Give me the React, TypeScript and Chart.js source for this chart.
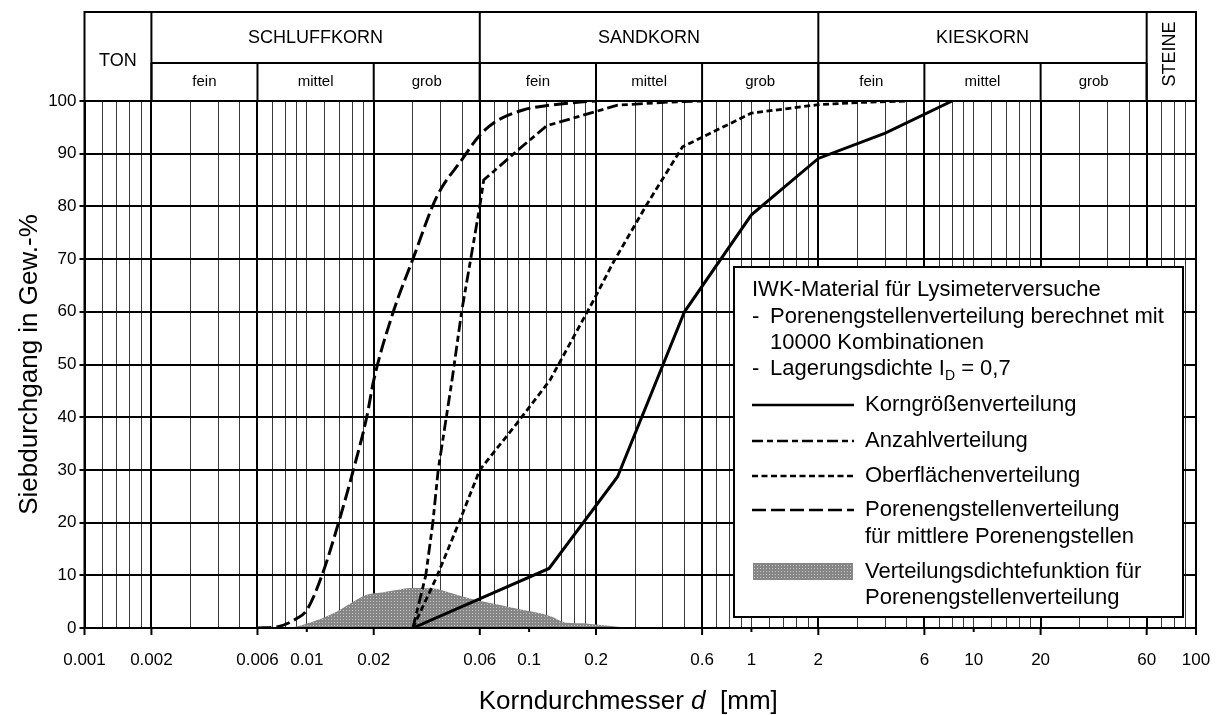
import React, { useEffect, useRef } from 'react';
import { Chart, registerables } from 'chart.js';

Chart.register(...registerables);

// ---------- data ----------
const xTickValues = [0.001, 0.002, 0.006, 0.01, 0.02, 0.06, 0.1, 0.2, 0.6, 1, 2, 6, 10, 20, 60, 100];
const xTickLabels = ['0.001', '0.002', '0.006', '0.01', '0.02', '0.06', '0.1', '0.2', '0.6', '1', '2', '6', '10', '20', '60', '100'];
const xShortTicks = [0.01, 0.1, 1, 10];
const xMajorLines = [0.002, 0.006, 0.02, 0.06, 0.2, 0.6, 2, 6, 20, 60];
const decadeStarts = [0.001, 0.01, 0.1, 1, 10];
const decadeSteps = [1, 1.2, 1.4, 1.6, 1.8, 2, 3, 4, 5, 6, 7, 8, 9];

const mainGroups = ['TON', 'SCHLUFFKORN', 'SANDKORN', 'KIESKORN', 'STEINE'];
const mainBounds = [0.001, 0.002, 0.06, 2, 60, 100];
const subLabels = ['fein', 'mittel', 'grob', 'fein', 'mittel', 'grob', 'fein', 'mittel', 'grob'];
const subBounds = [0.002, 0.006, 0.02, 0.06, 0.2, 0.6, 2, 6, 20, 60];

// Korngrößenverteilung
const kornD = [0.03, 0.123, 0.25, 0.5, 1.0, 2.0, 4.0, 8.0];
const kornP = [0, 11.3, 28.7, 60, 78.4, 89.1, 93.9, 100];
// Anzahlverteilung
const anzahlD = [0.03, 0.0343, 0.0369, 0.039, 0.045, 0.0497, 0.06, 0.0625, 0.088, 0.12, 0.25, 0.43, 0.6];
const anzahlP = [0, 10, 20, 30, 47, 60, 80, 85, 90.5, 95.3, 99.2, 99.8, 100];
// Oberflächenverteilung
const oberD = [0.03, 0.0384, 0.0489, 0.06, 0.088, 0.124, 0.194, 0.24, 0.34, 0.49, 1.0, 2.0, 3.0, 5.0];
const oberP = [0, 9.7, 20.5, 30, 38.8, 47, 62, 69.5, 80.5, 91.3, 97.7, 99.3, 99.7, 100];
// Porenengstellenverteilung
const poreD = [0.006, 0.0075, 0.009, 0.01, 0.0117, 0.0139, 0.0162, 0.0186, 0.02, 0.0245, 0.03, 0.0384, 0.0497, 0.06, 0.069, 0.094, 0.124, 0.17, 0.2];
const poreP = [0, 0.3, 1.8, 3.4, 10, 20, 30, 40, 47, 60, 70, 81.8, 88.8, 93.5, 95.8, 98.3, 99.2, 99.8, 100];
// Verteilungsdichtefunktion
const densD = [0.0075, 0.009, 0.011, 0.0136, 0.0162, 0.0186, 0.0221, 0.0254, 0.0291, 0.0371, 0.0441, 0.0542, 0.0715, 0.0942, 0.124, 0.148, 0.175, 0.194, 0.256, 0.28];
const densP = [0, 0.3, 1.4, 3.1, 5.0, 6.3, 6.8, 7.2, 7.6, 7.5, 6.7, 5.6, 4.5, 3.4, 2.3, 1.0, 0.9, 0.7, 0.2, 0];

const yTitle = 'Siebdurchgang in Gew.-%';
const legendHeader = ['IWK-Material für Lysimeterversuche', 'Porenengstellenverteilung berechnet mit', '10000 Kombinationen', 'Lagerungsdichte I'];
const legendNames = ['Korngrößenverteilung', 'Anzahlverteilung', 'Oberflächenverteilung', 'Porenengstellenverteilung', 'für mittlere Porenengstellen', 'Verteilungsdichtefunktion für', 'Porenengstellenverteilung'];

const FONT = 'Arial, "Liberation Sans", Helvetica, sans-serif';
const DASH_ANZAHL = [11, 4, 6, 4];
const DASH_OBER = [6, 3.5];
const DASH_PORE = [14, 5];

const pts = (xs: number[], ys: number[]) => xs.map((x, i) => ({ x, y: ys[i] }));

const gridValues: number[] = [];
decadeStarts.forEach((d) => decadeSteps.forEach((s) => gridValues.push(Number((d * s).toPrecision(6)))));
gridValues.push(100);

const near = (a: number, b: number) => Math.abs(a - b) / b < 1e-6;

export default function App() {
  const ref = useRef<HTMLCanvasElement | null>(null);

  useEffect(() => {
    document.body.style.margin = '0';
    const canvas = ref.current!;
    const pc = document.createElement('canvas');
    pc.width = 3;
    pc.height = 3;
    const pctx = pc.getContext('2d')!;
    pctx.fillStyle = '#868686';
    pctx.fillRect(0, 0, 3, 3);
    pctx.fillStyle = '#c4c4c4';
    pctx.fillRect(1, 1, 1, 1);
    const pattern = canvas.getContext('2d')!.createPattern(pc, 'repeat')!;

    const overlay = {
      id: 'overlay',
      afterDraw(chart: any) {
        const ctx = chart.ctx as CanvasRenderingContext2D;
        const xs = chart.scales.x;
        const { left, right, top, bottom } = chart.chartArea;
        const X = (v: number) => xs.getPixelForValue(v);
        ctx.save();
        ctx.strokeStyle = '#000';
        ctx.fillStyle = '#000';
        ctx.lineWidth = 2;
        ctx.setLineDash([]);
        // frame
        ctx.strokeRect(left, top, right - left, bottom - top);
        // ticks below x axis
        xTickValues.forEach((v) => {
          const px = X(v);
          const len = xShortTicks.some((s) => near(s, v)) ? 4 : 7;
          ctx.beginPath();
          ctx.moveTo(px, bottom);
          ctx.lineTo(px, bottom + len);
          ctx.stroke();
        });
        // header table
        const hTop = 12;
        const hMid = 63;
        ctx.strokeRect(left, hTop, right - left, top - hTop);
        mainBounds.slice(1, -1).forEach((v) => {
          ctx.beginPath();
          ctx.moveTo(X(v), hTop);
          ctx.lineTo(X(v), top);
          ctx.stroke();
        });
        ctx.beginPath();
        ctx.moveTo(X(0.002), hMid);
        ctx.lineTo(X(60), hMid);
        ctx.stroke();
        subBounds.forEach((v) => {
          ctx.beginPath();
          ctx.moveTo(X(v), hMid);
          ctx.lineTo(X(v), top);
          ctx.stroke();
        });
        ctx.textAlign = 'center';
        ctx.textBaseline = 'middle';
        ctx.font = `18px ${FONT}`;
        ctx.fillText(mainGroups[0], (X(mainBounds[0]) + X(mainBounds[1])) / 2, 61);
        for (let i = 1; i <= 3; i++) {
          ctx.fillText(mainGroups[i], (X(mainBounds[i]) + X(mainBounds[i + 1])) / 2, 38);
        }
        ctx.save();
        ctx.translate((X(60) + X(100)) / 2 - 1, 54);
        ctx.rotate(-Math.PI / 2);
        ctx.fillText(mainGroups[4], 0, 0);
        ctx.restore();
        ctx.font = `15px ${FONT}`;
        subLabels.forEach((s, i) => {
          ctx.fillText(s, (X(subBounds[i]) + X(subBounds[i + 1])) / 2, 82);
        });

        // x title with italic d
        const cx = (left + right) / 2 - 12;
        const yT = 709;
        ctx.textAlign = 'left';
        ctx.textBaseline = 'alphabetic';
        const nF = `26px ${FONT}`;
        const iF = `italic 26px ${FONT}`;
        const p1 = 'Korndurchmesser ';
        const p2 = 'd';
        const p3 = '  [mm]';
        ctx.font = nF;
        const w1 = ctx.measureText(p1).width;
        const w3 = ctx.measureText(p3).width;
        ctx.font = iF;
        const w2 = ctx.measureText(p2).width;
        let sx = cx - (w1 + w2 + w3) / 2;
        ctx.font = nF;
        ctx.fillText(p1, sx, yT);
        sx += w1;
        ctx.font = iF;
        ctx.fillText(p2, sx, yT);
        sx += w2;
        ctx.font = nF;
        ctx.fillText(p3, sx, yT);

        // legend box
        const bx = 734, by = 267, bw = 449, bh = 350;
        ctx.fillStyle = '#fff';
        ctx.fillRect(bx, by, bw, bh);
        ctx.lineWidth = 2;
        ctx.strokeRect(bx, by, bw, bh);
        ctx.fillStyle = '#000';
        ctx.font = `22px ${FONT}`;
        ctx.textBaseline = 'middle';
        const tx0 = 752;
        const tx1 = 770;
        const tx2 = 865;
        ctx.fillText(legendHeader[0], tx0, 290);
        ctx.fillText('-', tx0, 317);
        ctx.fillText(legendHeader[1], tx1, 317);
        ctx.fillText(legendHeader[2], tx1, 343);
        ctx.fillText('-', tx0, 369);
        ctx.fillText(legendHeader[3], tx1, 369);
        let lx = tx1 + ctx.measureText(legendHeader[3]).width;
        ctx.font = `14px ${FONT}`;
        ctx.fillText('D', lx, 376);
        lx += ctx.measureText('D').width;
        ctx.font = `22px ${FONT}`;
        ctx.fillText(' = 0,7', lx, 369);

        const drawLine = (y: number, dash: number[]) => {
          ctx.save();
          ctx.lineWidth = 2.5;
          ctx.setLineDash(dash);
          ctx.beginPath();
          ctx.moveTo(752, y);
          ctx.lineTo(854, y);
          ctx.stroke();
          ctx.restore();
        };
        drawLine(405, []);
        ctx.fillText(legendNames[0], tx2, 405);
        drawLine(441, DASH_ANZAHL);
        ctx.fillText(legendNames[1], tx2, 441);
        drawLine(476, DASH_OBER);
        ctx.fillText(legendNames[2], tx2, 476);
        drawLine(510, DASH_PORE);
        ctx.fillText(legendNames[3], tx2, 510);
        ctx.fillText(legendNames[4], tx2, 537);
        ctx.fillStyle = pattern;
        ctx.fillRect(753, 563, 100, 17);
        ctx.fillStyle = '#000';
        ctx.fillText(legendNames[5], tx2, 572);
        ctx.fillText(legendNames[6], tx2, 598);
        ctx.restore();
      },
    };

    const chart = new Chart(canvas, {
      type: 'scatter',
      data: {
        datasets: [
          {
            label: legendNames[0],
            data: pts(kornD, kornP),
            showLine: true,
            borderColor: '#000',
            borderWidth: 3,
            pointRadius: 0,
            tension: 0,
            order: 1,
          },
          {
            label: legendNames[1],
            data: pts(anzahlD, anzahlP),
            showLine: true,
            borderColor: '#000',
            borderWidth: 2.8,
            borderDash: DASH_ANZAHL,
            pointRadius: 0,
            tension: 0,
            order: 2,
          },
          {
            label: legendNames[2],
            data: pts(oberD, oberP),
            showLine: true,
            borderColor: '#000',
            borderWidth: 2.8,
            borderDash: DASH_OBER,
            pointRadius: 0,
            tension: 0,
            order: 3,
          },
          {
            label: legendNames[3],
            data: pts(poreD, poreP),
            showLine: true,
            borderColor: '#000',
            borderWidth: 3,
            borderDash: DASH_PORE,
            pointRadius: 0,
            cubicInterpolationMode: 'monotone',
            order: 4,
          },
          {
            label: legendNames[5],
            data: pts(densD, densP),
            showLine: true,
            borderWidth: 0,
            borderColor: 'rgba(0,0,0,0)',
            backgroundColor: pattern,
            fill: 'origin',
            pointRadius: 0,
            cubicInterpolationMode: 'monotone',
            order: 10,
          },
        ],
      },
      options: {
        animation: false,
        responsive: true,
        maintainAspectRatio: false,
        events: [],
        layout: { padding: { top: 101, right: 30, left: 0, bottom: 0 } },
        plugins: { legend: { display: false }, tooltip: { enabled: false } },
        scales: {
          x: {
            type: 'logarithmic',
            min: 0.001,
            max: 100,
            afterBuildTicks: (scale: any) => {
              scale.ticks = gridValues.map((v) => ({ value: v }));
            },
            afterFit: (scale: any) => {
              scale.height = 87;
              scale.paddingLeft = 0;
              scale.paddingRight = 0;
            },
            grid: {
              drawTicks: false,
              color: (c: any) => {
                const v = c.tick ? c.tick.value : 0;
                return xMajorLines.some((m) => near(m, v)) ? '#000' : '#3a3a3a';
              },
              lineWidth: (c: any) => {
                const v = c.tick ? c.tick.value : 0;
                return xMajorLines.some((m) => near(m, v)) ? 2 : 1;
              },
            },
            border: { display: true, color: '#000', width: 2 },
            ticks: {
              autoSkip: false,
              maxRotation: 0,
              padding: 22,
              color: '#000',
              font: { family: FONT, size: 17 },
              callback: (value: any) => {
                const i = xTickValues.findIndex((t) => near(t, Number(value)));
                return i >= 0 ? xTickLabels[i] : '';
              },
            },
          },
          y: {
            min: 0,
            max: 100,
            afterFit: (scale: any) => {
              scale.width = 84.5;
            },
            grid: { color: '#000', lineWidth: 2, tickLength: 5, tickColor: '#000', tickWidth: 2 },
            border: { display: true, color: '#000', width: 2 },
            ticks: {
              stepSize: 10,
              padding: 3,
              color: '#000',
              font: { family: FONT, size: 17 },
            },
            title: {
              display: true,
              text: yTitle,
              color: '#000',
              font: { family: FONT, size: 26 },
              padding: { top: 14, bottom: 0 },
            },
          },
        },
      },
      plugins: [overlay],
    } as any);
    return () => chart.destroy();
  }, []);

  return (
    <div style={{ position: 'relative', width: '1226px', height: '715px', background: '#fff' }}>
      <canvas ref={ref} />
    </div>
  );
}
